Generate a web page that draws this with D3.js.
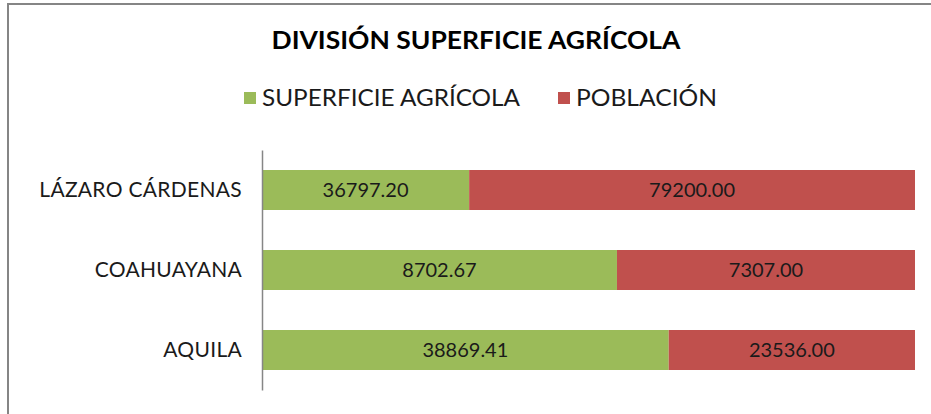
<!DOCTYPE html>
<html>
<head>
<meta charset="utf-8">
<script src="https://cdn.jsdelivr.net/npm/d3@7"></script>
<style>
  body { margin: 0; background: #fff; }
  svg { display: block; font-family: "Lato", "Noto Sans", sans-serif; }
</style>
</head>
<body>
<svg width="931" height="414"></svg>
<script>
var svg = d3.select("svg");

// data
var municipios = ["LÁZARO CÁRDENAS", "COAHUAYANA", "AQUILA"];
var superficie = [36797.20, 8702.67, 38869.41];
var poblacion = [79200.00, 7307.00, 23536.00];
var seriesNames = ["SUPERFICIE AGRÍCOLA", "POBLACIÓN"];
var colors = ["#9BBB59", "#C0504D"];

var rows = municipios.map(function(m, i) {
  return { name: m, s0: superficie[i], s1: poblacion[i] };
});

// chart frame
svg.append("path")
  .attr("d", "M8,414 L8,4 L931,4")
  .attr("fill", "none")
  .attr("stroke", "#858585")
  .attr("stroke-width", 2);

// title
svg.append("text")
  .attr("x", 476).attr("y", 49)
  .attr("text-anchor", "middle")
  .attr("font-size", 25)
  .attr("font-weight", "bold")
  .attr("textLength", 409)
  .attr("lengthAdjust", "spacingAndGlyphs")
  .text("DIVISIÓN SUPERFICIE AGRÍCOLA");

// legend
var legend = [
  { name: seriesNames[0], color: colors[0], x: 244, w: 258 },
  { name: seriesNames[1], color: colors[1], x: 558, w: 141 }
];
var lg = svg.append("g").selectAll("g").data(legend).enter().append("g");
lg.append("rect")
  .attr("x", function(d) { return d.x; }).attr("y", 92)
  .attr("width", 12).attr("height", 12)
  .attr("fill", function(d) { return d.color; });
lg.append("text")
  .attr("x", function(d) { return d.x + 18; }).attr("y", 106)
  .attr("font-size", 23)
  .attr("fill", "#1a1a1a")
  .attr("textLength", function(d) { return d.w; })
  .attr("lengthAdjust", "spacingAndGlyphs")
  .text(function(d) { return d.name; });

// scales
var x = d3.scaleLinear().domain([0, 1]).range([262, 915]);
var y = d3.scaleBand().domain(municipios).range([150, 390])
  .paddingInner(0.5).paddingOuter(0.25);

var stack = d3.stack().keys(["s0", "s1"]).offset(d3.stackOffsetExpand);
var series = stack(rows);

var layer = svg.append("g").selectAll("g")
  .data(series)
  .enter().append("g")
    .attr("fill", function(d, i) { return colors[i]; });

layer.selectAll("rect")
  .data(function(d) { return d; })
  .enter().append("rect")
    .attr("x", function(d) { return x(d[0]); })
    .attr("y", function(d) { return y(d.data.name); })
    .attr("width", function(d) { return x(d[1]) - x(d[0]); })
    .attr("height", y.bandwidth());

// value labels
layer.selectAll("text")
  .data(function(d) { return d.map(function(p) { return { p: p, key: d.key }; }); })
  .enter().append("text")
    .attr("x", function(d) { return (x(d.p[0]) + x(d.p[1])) / 2; })
    .attr("y", function(d) { return y(d.p.data.name) + y.bandwidth() / 2; })
    .attr("dy", "0.36em")
    .attr("text-anchor", "middle")
    .attr("font-size", 20)
    .attr("fill", "#1a1a1a")
    .text(function(d) { return d.p.data[d.key].toFixed(2); });

// y axis
var yAxis = svg.append("g")
  .attr("transform", "translate(262,0)")
  .call(d3.axisLeft(y).tickSize(0).tickPadding(20));
yAxis.select(".domain").attr("stroke", "#868686").attr("stroke-width", 1.5);
yAxis.selectAll("text")
  .attr("font-family", "Lato, 'Noto Sans', sans-serif")
  .attr("font-size", 21)
  .attr("letter-spacing", "0.3px")
  .attr("fill", "#1a1a1a");
</script>
</body>
</html>
